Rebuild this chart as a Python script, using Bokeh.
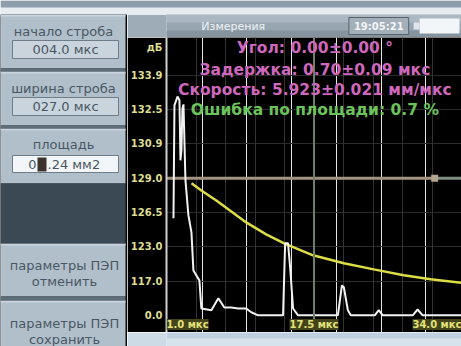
from bokeh.plotting import figure
from bokeh.layouts import column, row
from bokeh.models import Range1d, FixedTicker, Grid, Span, Label
from bokeh.embed import file_html
from bokeh.resources import INLINE

# ---- A-scan data: time in µs, amplitude in screen divisions ----
trace_t = [1.78, 1.89, 2.23, 2.45, 2.56, 2.67, 2.78, 2.90, 3.12, 3.45, 3.79, 4.01,
           4.68, 4.90, 6.02, 6.80, 7.47, 8.25, 9.03, 9.92, 10.48, 11.26, 14.04,
           14.27, 14.60, 14.83, 15.16, 15.72, 20.17, 20.62, 20.84, 21.29, 21.62,
           24.30, 24.74, 25.19, 28.54, 29.09, 29.65, 34.0]
trace_a = [2.83, 6.12, 6.38, 6.27, 4.52, 4.81, 6.03, 6.15, 3.94, 2.92, 2.42, 1.31,
           1.02, 0.20, 0.15, 0.50, 0.23, 0.23, 0.20, 0.20, 0.09, 0.0, 0.0,
           2.10, 2.10, 1.40, 0.20, 0.0, 0.0, 0.87, 0.82, 0.15, 0.0,
           0.0, 0.15, 0.0, 0.0, 0.17, 0.0, 0.0]

# time-corrected gain curve
tcg_t = [3.8, 4.90, 6.57, 8.25, 9.92, 12.15, 14.16, 17.39, 20.84, 24.19, 27.53, 30.55, 34.0]
tcg_a = [3.85, 3.64, 3.35, 3.03, 2.71, 2.36, 2.10, 1.75, 1.52, 1.34, 1.17, 1.05, 0.95]

amp_ticks = [0, 1, 2, 3, 4, 5, 6, 7]
amp_tick_labels = ["0.0", "117.0", "123.0", "126.5", "129.0", "130.9", "132.5", "133.9"]
db_tick = 7.8
db_label = "дБ"

time_start = 1.0
time_mid = 17.5
time_end = 34.0
time_labels = ["1.0 мкс", "17.5 мкс", "34.0 мкс"]

gate_start = 4.0
gate_width = 27.0
gate_level = 4.0

readouts = ["Угол: 0.00±0.00 °",
            "Задержка: 0.70±0.09 мкс",
            "Скорость: 5.923±0.021 мм/мкс",
            "Ошибка по площади: 0.7 %"]
readout_colors = ["#cf68bd", "#cf68bd", "#cf68bd", "#6cc35c"]
readout_levels = [7.78, 7.14, 6.56, 5.98]

FONT = "DejaVu Sans"
AXIS_W = 38  # width of the amplitude axis strip


def chrome(width, height, x0, x1, y0, y1, bg, border_left=0, border_bg=None):
    f = figure(width=width, height=height, x_range=Range1d(x0, x1), y_range=Range1d(y1, y0),
               x_axis_location=None, y_axis_location=None, toolbar_location=None, tools="",
               min_border=0, min_border_left=border_left, outline_line_color=None,
               output_backend="svg", background_fill_color=bg,
               border_fill_color=border_bg or bg)
    f.grid.visible = False
    return f


def txt(f, x, y, s, color, size, align="center", style="normal"):
    f.add_layout(Label(x=x, y=y, text=s, text_color=color, text_font=FONT,
                       text_font_size=size, text_font_style=style,
                       text_align=align, text_baseline="middle"))


# ---- top strip ----
top = chrome(461, 14, 0, 461, 0, 14, "#e6ecf0")
top.quad(left=0, right=461, top=0, bottom=7, fill_color="#8e9dab", line_color=None)

# ---- left menu ----
menu = chrome(127, 332, 0, 127, 14, 346, "#0a0a0a")
btn_face = "#b1bfcb"
sep = "#5d6d7a"
for (a, b) in [(14, 68), (71, 125), (128, 183), (243, 296), (300, 346)]:
    menu.quad(left=0, right=125, top=a, bottom=b, fill_color=btn_face, line_color=None)
    menu.quad(left=0, right=125, top=a, bottom=a + 2, fill_color="#c9d4dd", line_color=None)
for (a, b) in [(68, 71), (125, 128), (296, 300)]:
    menu.quad(left=0, right=125, top=a, bottom=b, fill_color=sep, line_color=None)
menu.quad(left=0, right=125, top=183, bottom=243, fill_color="#3b4955", line_color=None)

for (a, b, fill) in [(40, 58, "#c9d4dd"), (97, 115, "#c9d4dd"), (155, 172, "#f3f6f8")]:
    menu.quad(left=12, right=118, top=a, bottom=b, fill_color=fill, line_color="#6f7d89", line_width=1)

title_c = "#4a5763"
txt(menu, 63, 31, "начало строба", title_c, "13px")
txt(menu, 65, 49, "004.0 мкс", title_c, "13px")
txt(menu, 63, 88, "ширина строба", title_c, "13px")
txt(menu, 65, 106, "027.0 мкс", title_c, "13px")
txt(menu, 63, 144, "площадь", title_c, "13px")
txt(menu, 32, 164, "0", title_c, "13px")
menu.quad(left=37, right=46, top=157, bottom=171, fill_color="#3b342c", line_color=None)
txt(menu, 47, 164, ".24 мм2", title_c, "13px", align="left")
txt(menu, 64, 265, "параметры ПЭП", title_c, "13px")
txt(menu, 64, 281, "отменить", title_c, "13px")
txt(menu, 64, 323, "параметры ПЭП", title_c, "13px")
txt(menu, 64, 339, "сохранить", title_c, "13px")

# ---- header (left strip above the amplitude axis is border fill) ----
head = chrome(334, 23, AXIS_W, 334, 0, 23, "#98a6b2", border_left=AXIS_W, border_bg="#9eacb8")
head.quad(left=AXIS_W, right=334, top=0, bottom=8, fill_color="#abb7c1", line_color=None)
head.quad(left=AXIS_W, right=334, top=16, bottom=23, fill_color="#85939f", line_color=None)
txt(head, 105, 11.5, "Измерения", "#eef2f5", "11px")
head.quad(left=221, right=281, top=3, bottom=20, fill_color="#a3afb9", line_color="#56636e")
txt(head, 251, 11.5, "19:05:21", "#f2f5f7", "10px", style="bold")
head.quad(left=292, right=332, top=4, bottom=19, fill_color="#f3f6f8", line_color=None)
head.quad(left=286, right=292, top=8, bottom=15, fill_color="#dfe5ea", line_color=None)

# ---- A-scan ----
p = figure(width=334, height=295, x_range=Range1d(time_start, time_end), y_range=Range1d(-0.5, 8.1),
           x_axis_location=None, y_axis_location="left", toolbar_location=None, tools="",
           min_border_left=AXIS_W, min_border_right=0, min_border_top=0, min_border_bottom=0,
           outline_line_color=None, output_backend="svg",
           background_fill_color="black", border_fill_color="black")

overrides = {float(t): s for t, s in zip(amp_ticks, amp_tick_labels)}
overrides[db_tick] = db_label
p.yaxis.ticker = FixedTicker(ticks=[float(t) for t in amp_ticks] + [db_tick])
p.yaxis.major_label_overrides = overrides
p.yaxis.major_label_text_color = "#dcdc92"
p.yaxis.major_label_text_font = FONT
p.yaxis.major_label_text_font_size = "10px"
p.yaxis.major_label_text_font_style = "bold"
p.yaxis.major_label_standoff = 4
p.yaxis.major_tick_out = 0
p.yaxis.major_tick_in = 0
p.yaxis.minor_tick_out = 0
p.yaxis.minor_tick_in = 0
p.yaxis.axis_line_color = "#cfcfcf"
p.yaxis.axis_line_width = 2
p.yaxis.major_tick_line_color = None
p.yaxis.minor_tick_line_color = None

p.ygrid.ticker = FixedTicker(ticks=[float(t) for t in amp_ticks[1:]])
p.ygrid.grid_line_color = "#2c2c2c"

divs = 10
step = (time_end - time_start) / divs
grid_t = [time_start + k * step for k in range(1, divs)]
p.add_layout(Grid(dimension=0, ticker=FixedTicker(ticks=grid_t), grid_line_color="#333333"))
p.add_layout(Span(location=time_mid, dimension="height", line_color="#6e7f67", line_width=2))

gate_end = gate_start + gate_width
p.line([time_start, gate_end], [gate_level, gate_level], line_color="#a39482", line_width=3)
p.line([gate_end, time_end], [gate_level, gate_level], line_color="#7e8e80", line_width=3)
p.scatter([gate_end], [gate_level], marker="square", size=7, fill_color="#b2a68f", line_color=None)

p.line(tcg_t, tcg_a, line_color="#dcdc46", line_width=2.5)
p.line(trace_t, trace_a, line_color="#f2f2f2", line_width=2)

for s, c, lv in zip(readouts, readout_colors, readout_levels):
    p.add_layout(Label(x=17.6, y=lv, text=s, text_color=c, text_font=FONT,
                       text_font_size="15.5px", text_font_style="bold",
                       text_align="center", text_baseline="middle"))

for t, s, al in zip([time_start, time_mid, time_end], time_labels, ["left", "center", "right"]):
    p.add_layout(Label(x=t, y=-0.27, text=s, text_color="#e2e27a", text_font=FONT,
                       text_font_size="10px", text_font_style="bold", text_align=al,
                       text_baseline="middle", background_fill_color="#44441c"))

# ---- bottom strip ----
bottom = chrome(334, 14, AXIS_W, 334, 0, 14, "#d6e2ec", border_left=AXIS_W, border_bg="#cddbe7")
bottom.quad(left=AXIS_W, right=334, top=0, bottom=6, fill_color="#bfd1e1", line_color=None)

layout = column(top, row(menu, column(head, p, bottom, spacing=0), spacing=0), spacing=0)
open("out.html", "w").write(file_html(layout, INLINE))
